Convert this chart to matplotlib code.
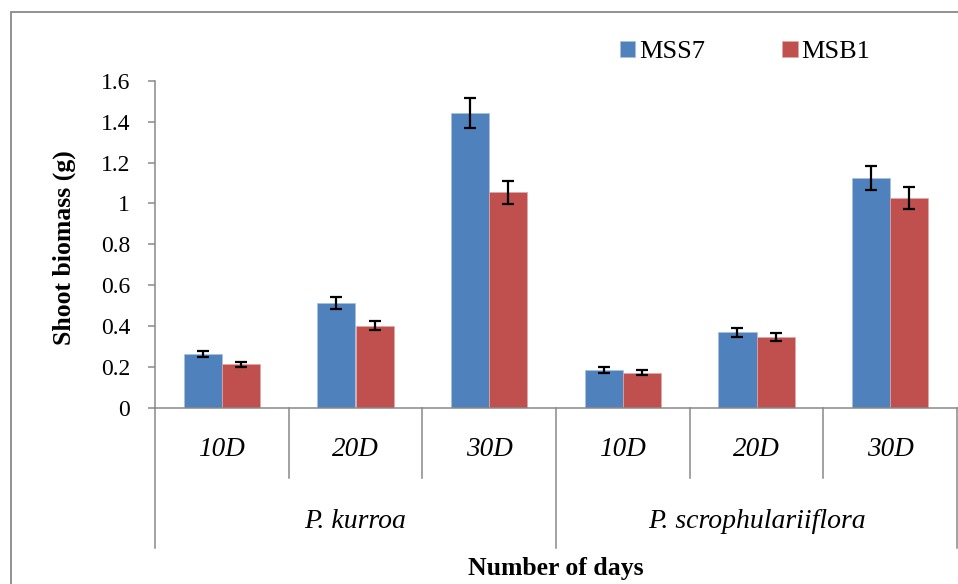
import numpy as np
import matplotlib
matplotlib.use("Agg")
import matplotlib.pyplot as plt
from matplotlib.patches import Rectangle
import matplotlib.transforms as mtransforms

plt.rcParams['font.family'] = ['Liberation Serif', 'DejaVu Serif']

# data
species = ['P. kurroa', 'P. scrophulariiflora']
days = ['10D', '20D', '30D']
mss7 = [0.264, 0.514, 1.441, 0.185, 0.371, 1.124]
mss7_err = [0.016, 0.028, 0.074, 0.013, 0.022, 0.059]
msb1 = [0.214, 0.401, 1.054, 0.173, 0.347, 1.026]
msb1_err = [0.013, 0.022, 0.055, 0.011, 0.021, 0.055]

blue = '#4F81BD'
red = '#C0504D'
grey = '#898989'

fig = plt.figure(figsize=(9.58, 5.84), dpi=100)
ax = fig.add_axes([155/958, 1-408/584, 802/958, (408-80.7)/584])

n = len(mss7)
x = np.arange(n)
w = 0.285
err_kw = dict(ecolor='black', elinewidth=1.6, capsize=4.5, capthick=1.6)
ax.bar(x - w/2, mss7, w, yerr=mss7_err, color=blue, edgecolor='#a8c0de',
       linewidth=0.5, label='MSS7', error_kw=err_kw)
ax.bar(x + w/2, msb1, w, yerr=msb1_err, color=red, edgecolor='#e0a8a6',
       linewidth=0.5, label='MSB1', error_kw=err_kw)

ax.set_xlim(-0.5, n - 0.5)
ax.set_ylim(0, 1.6)
ax.set_yticks(np.arange(0, 1.61, 0.2))
ax.set_yticklabels(['0', '0.2', '0.4', '0.6', '0.8', '1', '1.2', '1.4', '1.6'])
ax.tick_params(axis='y', labelsize=17, length=5, width=1.1, color=grey, pad=13)
ax.set_xticks([])
for s in ['top', 'right']:
    ax.spines[s].set_visible(False)
for s in ['left', 'bottom']:
    ax.spines[s].set_color(grey)
    ax.spines[s].set_linewidth(1.1)

# two-level category axis
trans = mtransforms.blended_transform_factory(ax.transData, ax.transAxes)
h = 408 - 80.7
y_day = (408 - 478) / h
y_sp = (408 - 548) / h
for b in np.arange(n + 1) - 0.5:
    low = y_sp if b in (-0.5, 2.5, 5.5) else y_day
    ax.plot([b, b], [0, low], color=grey, lw=1.1, transform=trans, clip_on=False)
for i in range(n):
    ax.text(i, (408 - 450) / h, days[i % 3], transform=trans, ha='center',
            va='center', fontsize=19.5, style='italic')
for j, sp in enumerate(species):
    ax.text(3*j + 1, (408 - 521) / h, sp, transform=trans, ha='center',
            va='center', fontsize=20, style='italic')
ax.text(2.5, (408 - 569) / h, 'Number of days', transform=trans, ha='center',
        va='center', fontsize=18.5, fontweight='bold')
fig.text(64/958, 1-248/584, 'Shoot biomass (g)', rotation=90, ha='center',
         va='center', fontsize=18.5, fontweight='bold')

leg = ax.legend(loc='upper left', bbox_to_anchor=(609/958, 1-30/584),
                bbox_transform=fig.transFigure, ncol=2, frameon=False,
                fontsize=19, handlelength=0.6, handleheight=0.6,
                handletextpad=0.15, columnspacing=2.9, borderaxespad=0)

# chart border
fig.add_artist(Rectangle((11/958, -0.1), 1.2, 1 - 12/584 + 0.1, transform=fig.transFigure,
                         fill=False, edgecolor=grey, lw=1.3))

fig.savefig('out.png', dpi=100)
